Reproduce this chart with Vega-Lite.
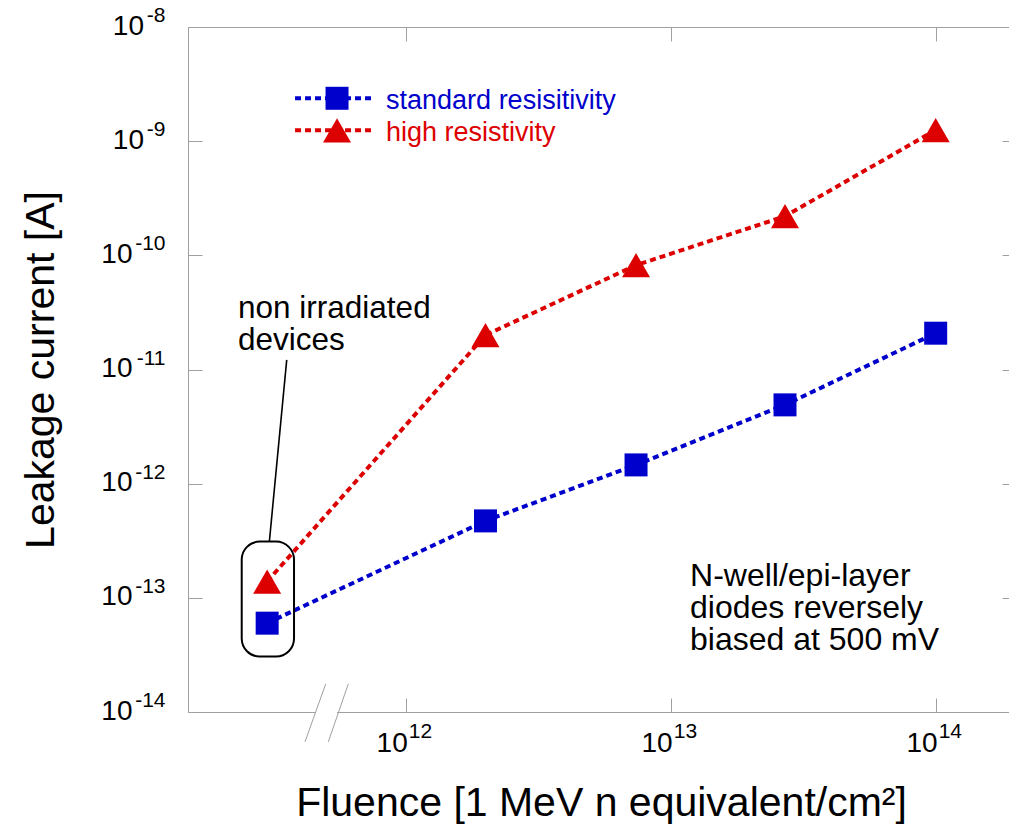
{
  "$schema": "https://vega.github.io/schema/vega-lite/v6.json",
  "width": 821,
  "height": 685,
  "autosize": {"type": "none"},
  "padding": {"left": 188, "top": 27, "right": 0, "bottom": 112},
  "background": "white",
  "config": {
    "view": {"stroke": null},
    "font": "Liberation Sans",
    "axis": {
      "grid": false,
      "domainColor": "#a0a0a0",
      "domainWidth": 1,
      "tickColor": "#a0a0a0",
      "tickWidth": 1,
      "labelColor": "black",
      "titleColor": "black",
      "labelFont": "Liberation Sans",
      "titleFont": "Liberation Sans",
      "labelFlush": false,
      "labelOverlap": false,
      "labelBound": false
    }
  },
  "datasets": {
    "measurements": [
      {"series": "standard resisitivity", "fluence": 3e11, "current": 6.0e-14},
      {"series": "standard resisitivity", "fluence": 2e12, "current": 4.72e-13},
      {"series": "standard resisitivity", "fluence": 7.4e12, "current": 1.46e-12},
      {"series": "standard resisitivity", "fluence": 2.7e13, "current": 4.9e-12},
      {"series": "standard resisitivity", "fluence": 1e14, "current": 2.08e-11},
      {"series": "high resistivity", "fluence": 3e11, "current": 1.39e-13},
      {"series": "high resistivity", "fluence": 2e12, "current": 2.0e-11},
      {"series": "high resistivity", "fluence": 7.4e12, "current": 8.2e-11},
      {"series": "high resistivity", "fluence": 2.7e13, "current": 2.2e-10},
      {"series": "high resistivity", "fluence": 1e14, "current": 1.25e-9}
    ],
    "yTicks": [
      {"tick": 1e-14, "base": "10", "exp": "-14"},
      {"tick": 1e-13, "base": "10", "exp": "-13"},
      {"tick": 1e-12, "base": "10", "exp": "-12"},
      {"tick": 1e-11, "base": "10", "exp": "-11"},
      {"tick": 1e-10, "base": "10", "exp": "-10"},
      {"tick": 1e-9, "base": "10", "exp": "-9"},
      {"tick": 1e-8, "base": "10", "exp": "-8"}
    ],
    "xTicks": [
      {"tick": 1e12, "base": "10", "exp": "12"},
      {"tick": 1e13, "base": "10", "exp": "13"},
      {"tick": 1e14, "base": "10", "exp": "14"}
    ]
  },
  "layer": [
    {
      "data": {"name": "measurements"},
      "mark": {"type": "line", "strokeWidth": 4, "strokeDash": [6, 4]},
      "encoding": {
        "x": {
          "field": "fluence", "type": "quantitative",
          "scale": {"type": "log", "domain": [1.508e11, 1.891e14], "nice": false},
          "axis": {
            "orient": "bottom",
            "values": [1e12, 1e13, 1e14],
            "labels": false,
            "tickSize": -14,
            "title": "Fluence [1 MeV n equivalent/cm²]",
            "titleFontSize": 41,
            "titleFontWeight": "normal",
            "titleX": 413,
            "titleY": 103,
            "titleAlign": "center",
            "titleBaseline": "alphabetic"
          }
        },
        "y": {
          "field": "current", "type": "quantitative",
          "scale": {"type": "log", "domain": [1e-14, 1e-8], "nice": false},
          "axis": {
            "orient": "left",
            "values": [1e-14, 1e-13, 1e-12, 1e-11, 1e-10, 1e-9, 1e-8],
            "labels": false,
            "tickSize": -14,
            "title": "Leakage current [A]",
            "titleFontSize": 41,
            "titleFontWeight": "normal",
            "titleX": -135,
            "titleY": 342.5,
            "titleAngle": 270,
            "titleAlign": "center",
            "titleBaseline": "alphabetic"
          }
        },
        "color": {
          "field": "series", "type": "nominal",
          "scale": {"domain": ["standard resisitivity", "high resistivity"], "range": ["#0000cc", "#dd0000"]},
          "legend": null
        }
      }
    },
    {
      "data": {"name": "yTicks"},
      "mark": {"type": "text", "align": "right", "baseline": "alphabetic", "dx": -22.5, "dy": -5, "fontSize": 21, "color": "black"},
      "encoding": {
        "x": {"datum": 1.508e11, "type": "quantitative", "axis": null},
        "y": {"field": "tick", "type": "quantitative", "axis": null},
        "text": {"field": "exp"}
      }
    },
    {
      "data": {"name": "yTicks"},
      "transform": [{"filter": "datum.tick > 2e-10"}],
      "mark": {"type": "text", "align": "right", "baseline": "alphabetic", "dx": -44, "dy": 7.5, "fontSize": 28, "color": "black"},
      "encoding": {
        "x": {"datum": 1.508e11, "type": "quantitative", "axis": null},
        "y": {"field": "tick", "type": "quantitative", "axis": null},
        "text": {"field": "base"}
      }
    },
    {
      "data": {"name": "yTicks"},
      "transform": [{"filter": "datum.tick < 2e-10"}],
      "mark": {"type": "text", "align": "right", "baseline": "alphabetic", "dx": -55.5, "dy": 7.5, "fontSize": 28, "color": "black"},
      "encoding": {
        "x": {"datum": 1.508e11, "type": "quantitative", "axis": null},
        "y": {"field": "tick", "type": "quantitative", "axis": null},
        "text": {"field": "base"}
      }
    },
    {
      "data": {"name": "xTicks"},
      "mark": {"type": "text", "align": "right", "baseline": "alphabetic", "dx": 2, "dy": 40, "fontSize": 28, "color": "black"},
      "encoding": {
        "x": {"field": "tick", "type": "quantitative", "axis": null},
        "y": {"datum": 1e-14, "type": "quantitative", "axis": null},
        "text": {"field": "base"}
      }
    },
    {
      "data": {"name": "xTicks"},
      "mark": {"type": "text", "align": "left", "baseline": "alphabetic", "dx": 3, "dy": 26, "fontSize": 21, "color": "black"},
      "encoding": {
        "x": {"field": "tick", "type": "quantitative", "axis": null},
        "y": {"datum": 1e-14, "type": "quantitative", "axis": null},
        "text": {"field": "exp"}
      }
    },
    {
      "data": {"values": [{}]},
      "mark": {"type": "rule", "color": "white", "strokeWidth": 4},
      "encoding": {
        "x": {"datum": 4.586e11, "type": "quantitative", "axis": null},
        "x2": {"datum": 5.506e11},
        "y": {"datum": 1e-14, "type": "quantitative", "axis": null}
      }
    },
    {
      "data": {"values": [{}]},
      "mark": {"type": "rule", "color": "#a0a0a0", "strokeWidth": 1},
      "encoding": {
        "x": {"datum": 4.991e11, "type": "quantitative", "axis": null},
        "x2": {"datum": 4.169e11},
        "y": {"datum": 1.766e-14, "type": "quantitative", "axis": null},
        "y2": {"datum": 5.48e-15}
      }
    },
    {
      "data": {"values": [{}]},
      "mark": {"type": "rule", "color": "#a0a0a0", "strokeWidth": 1},
      "encoding": {
        "x": {"datum": 6.074e11, "type": "quantitative", "axis": null},
        "x2": {"datum": 5.104e11},
        "y": {"datum": 1.766e-14, "type": "quantitative", "axis": null},
        "y2": {"datum": 5.48e-15}
      }
    },
    {
      "data": {"values": [{}]},
      "mark": {"type": "rect", "fill": null, "fillOpacity": 0, "stroke": "black", "strokeWidth": 2, "cornerRadius": 18},
      "encoding": {
        "x": {"datum": 2.405e11, "type": "quantitative", "axis": null},
        "x2": {"datum": 3.789e11},
        "y": {"datum": 3.11e-13, "type": "quantitative", "axis": null},
        "y2": {"datum": 3.06e-14}
      }
    },
    {
      "data": {"values": [{}]},
      "mark": {"type": "rule", "color": "black", "strokeWidth": 1.6},
      "encoding": {
        "x": {"datum": 3.058e11, "type": "quantitative", "axis": null},
        "x2": {"datum": 3.556e11},
        "y": {"datum": 3.11e-13, "type": "quantitative", "axis": null},
        "y2": {"datum": 1.213e-11}
      }
    },
    {
      "data": {"values": [{}]},
      "mark": {"type": "text", "text": ["non irradiated", "devices"], "align": "left", "baseline": "alphabetic", "fontSize": 31.5, "lineHeight": 32, "color": "black"},
      "encoding": {
        "x": {"datum": 2.329e11, "type": "quantitative", "axis": null},
        "y": {"datum": 2.83e-11, "type": "quantitative", "axis": null}
      }
    },
    {
      "data": {"values": [{}]},
      "mark": {"type": "text", "text": ["N-well/epi-layer", "diodes reversely", "biased at 500 mV"], "align": "left", "baseline": "alphabetic", "fontSize": 32, "lineHeight": 32, "color": "black"},
      "encoding": {
        "x": {"datum": 1.183e13, "type": "quantitative", "axis": null},
        "y": {"datum": 1.274e-13, "type": "quantitative", "axis": null}
      }
    },
    {
      "data": {"name": "measurements"},
      "transform": [{"filter": "datum.series == 'standard resisitivity'"}],
      "mark": {"type": "point", "shape": "square", "filled": true, "opacity": 1, "size": 529, "color": "#0000cc"},
      "encoding": {
        "x": {
          "field": "fluence", "type": "quantitative",
          "axis": {"orient": "top", "values": [1e12, 1e13, 1e14], "labels": false, "tickSize": -14, "title": null}
        },
        "y": {
          "field": "current", "type": "quantitative",
          "axis": {"orient": "right", "values": [1e-14, 1e-13, 1e-12, 1e-11, 1e-10, 1e-9, 1e-8], "labels": false, "tickSize": -7, "domain": false, "title": null}
        }
      }
    },
    {
      "data": {"name": "measurements"},
      "transform": [{"filter": "datum.series == 'high resistivity'"}],
      "mark": {"type": "point", "shape": "triangle-up", "filled": true, "opacity": 1, "size": 784, "color": "#dd0000"},
      "encoding": {
        "x": {"field": "fluence", "type": "quantitative", "axis": null},
        "y": {"field": "current", "type": "quantitative", "axis": null}
      }
    },
    {
      "data": {"values": [{}]},
      "mark": {"type": "rule", "color": "#0000cc", "strokeWidth": 4, "strokeDash": [6, 4]},
      "encoding": {
        "x": {"datum": 3.822e11, "type": "quantitative", "axis": null},
        "x2": {"datum": 7.659e11},
        "y": {"datum": 2.375e-9, "type": "quantitative", "axis": null}
      }
    },
    {
      "data": {"values": [{}]},
      "mark": {"type": "rule", "color": "#dd0000", "strokeWidth": 4, "strokeDash": [6, 4]},
      "encoding": {
        "x": {"datum": 3.822e11, "type": "quantitative", "axis": null},
        "x2": {"datum": 7.659e11},
        "y": {"datum": 1.245e-9, "type": "quantitative", "axis": null}
      }
    },
    {
      "data": {"values": [{}]},
      "mark": {"type": "point", "shape": "square", "filled": true, "opacity": 1, "size": 529, "color": "#0000cc"},
      "encoding": {
        "x": {"datum": 5.506e11, "type": "quantitative", "axis": null},
        "y": {"datum": 2.375e-9, "type": "quantitative", "axis": null}
      }
    },
    {
      "data": {"values": [{}]},
      "mark": {"type": "point", "shape": "triangle-up", "filled": true, "opacity": 1, "size": 784, "color": "#dd0000"},
      "encoding": {
        "x": {"datum": 5.506e11, "type": "quantitative", "axis": null},
        "y": {"datum": 1.245e-9, "type": "quantitative", "axis": null}
      }
    },
    {
      "data": {"values": [{}]},
      "mark": {"type": "text", "text": "standard resisitivity", "align": "left", "baseline": "middle", "dy": 3, "fontSize": 27, "color": "#0000cc"},
      "encoding": {
        "x": {"datum": 8.43e11, "type": "quantitative", "axis": null},
        "y": {"datum": 2.375e-9, "type": "quantitative", "axis": null}
      }
    },
    {
      "data": {"values": [{}]},
      "mark": {"type": "text", "text": "high resistivity", "align": "left", "baseline": "middle", "dy": 3, "fontSize": 27, "color": "#dd0000"},
      "encoding": {
        "x": {"datum": 8.43e11, "type": "quantitative", "axis": null},
        "y": {"datum": 1.245e-9, "type": "quantitative", "axis": null}
      }
    }
  ]
}
